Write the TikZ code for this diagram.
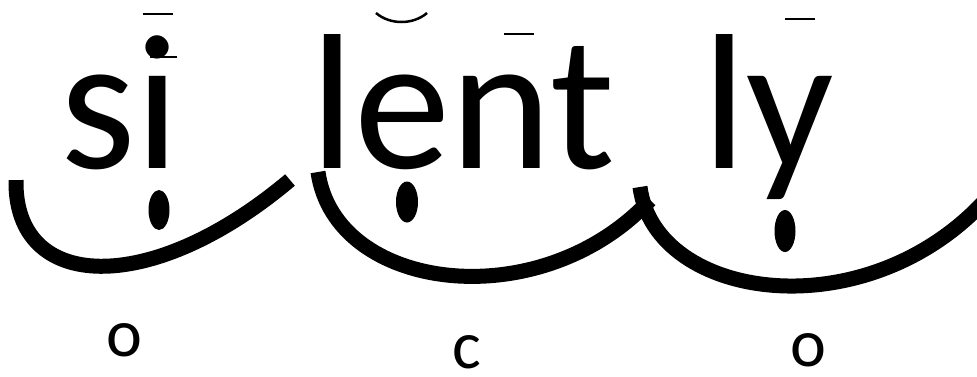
\documentclass[tikz,border=0pt]{standalone}
\usepackage{fontspec}
\setmainfont{Carlito}
\tikzset{
  syl/.style={font=\fontsize{193}{200}\selectfont, inner sep=0pt, anchor=base west},
  sylclass/.style={font=\fontsize{68}{70}\selectfont, inner sep=0pt},
  swoop/.style={line width=15pt, line cap=butt},
  bar/.style={line width=1.6pt},
}
\begin{document}
\begin{tikzpicture}[x=1pt,y=-1pt]
      \clip (0,0) rectangle (977,376);
      \node[syl] (si) at (60,168) {si};
      \node[syl] (lent) at (310,168) {lent};
      \node[syl] (ly) at (702,168) {ly};
      % marks above the vowels
      \draw[bar] (143,14) -- (173,14);
      \draw[bar] (150,57) -- (177,57);
      \draw[line width=2.5pt] (376,13) .. controls (390,25) and (413,25) .. (427,13);
      \draw[bar] (504,34) -- (534,34);
      \draw[bar] (785,19) -- (815,19);
      % dots under the vowels
      \fill (159,210) ellipse [x radius=10.5, y radius=20];
      \fill (407,202) ellipse [x radius=11, y radius=20.5];
      \fill (785,231) ellipse [x radius=10.5, y radius=21];
      % arcs
      \draw[swoop] (16,180) .. controls (14,292) and (150,298) .. (290,180);
      \draw[swoop] (318,172) .. controls (335,292) and (540,318) .. (650,200);
      \draw[swoop] (640,187) .. controls (655,302) and (870,332) .. (990,195);
      \node[sylclass] (o1) at (124,340) {o};
      \node[sylclass] (c2) at (467,352) {c};
      \node[sylclass] (o3) at (808,350) {o};
    \end{tikzpicture}
\end{document}
